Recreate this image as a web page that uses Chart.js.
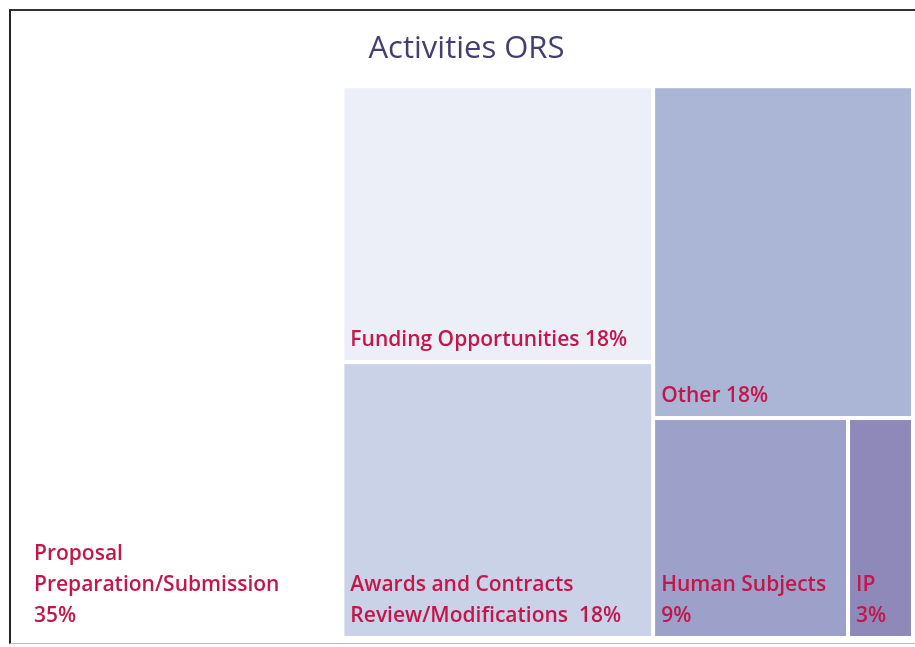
<!DOCTYPE html>
<html>
<head>
<meta charset="utf-8">
<script src="https://cdn.jsdelivr.net/npm/chart.js@4.4.1/dist/chart.umd.min.js"></script>
<style>
  html, body { margin: 0; padding: 0; background: #fff; }
  #wrap { position: relative; width: 915px; height: 647px; overflow: hidden; }
  #frame { position: absolute; left: 9px; top: 9px; width: 920px; height: 632px;
           border-left: 2px solid #222; border-top: 2px solid #333; border-bottom: 1px solid #bbb; }
  canvas { position: absolute; left: 0; top: 0; }
</style>
</head>
<body>
<div id="wrap">
  <div id="frame"></div>
  <canvas id="treeChart" width="915" height="647"></canvas>
</div>
<script>
// categories and their share of the area
const categories = ['Proposal Preparation/Submission', 'Funding Opportunities', 'Awards and Contracts Review/Modifications', 'Other', 'Human Subjects', 'IP'];
const areaValues = [36.1, 17.4, 17.4, 17.5, 8.7, 2.9];
const pctLabels = ['35%', '18%', '18%', '18%', '9%', '3%'];
// how each label is broken into lines in the picture
const labelLines = [
  ['Proposal', 'Preparation/Submission', '35%'],
  ['Funding Opportunities 18%'],
  ['Awards and Contracts', 'Review/Modifications  18%'],
  ['Other 18%'],
  ['Human Subjects', '9%'],
  ['IP', '3%']
];
const cellColors = ['#ffffff', '#eceff7', '#cad2e7', '#abb6d6', '#9da0c8', '#8f89ba'];

(function() {
  function sum(arr) {
    return arr.reduce((a, b) => a + b, 0);
  }

  // squarified treemap, done in data units (0..100 on both axes),
  // aspect ratios judged in pixels via kx / ky
  function squarify(values, kx, ky) {
    const cells = [];
    let rect = {x: 0, y: 0, w: 100, h: 100};
    let idx = 0;
    while (idx < values.length) {
      const rest = values.slice(idx);
      const wPx = rect.w * kx, hPx = rect.h * ky;
      const vertical = wPx >= hPx;
      const side = vertical ? hPx : wPx;
      const scale = (wPx * hPx) / sum(rest);

      function worst(row) {
        const t = sum(row) * scale / side;
        return Math.max(...row.map(v => {
          const len = v * scale / t;
          return Math.max(t / len, len / t);
        }));
      }

      const row = [rest[0]];
      while (row.length < rest.length && worst(row.concat(rest[row.length])) <= worst(row)) {
        row.push(rest[row.length]);
      }

      const t = sum(row) * scale / side;
      let pos = 0;
      row.forEach((v, i) => {
        const len = v * scale / t;
        if (vertical) {
          cells[idx + i] = {x: rect.x, y: rect.y + pos / ky, w: t / kx, h: len / ky};
        } else {
          cells[idx + i] = {x: rect.x + pos / kx, y: rect.y, w: len / kx, h: t / ky};
        }
        pos += len;
      });

      if (vertical) {
        rect = {x: rect.x + t / kx, y: rect.y, w: rect.w - t / kx, h: rect.h};
      } else {
        rect = {x: rect.x, y: rect.y + t / ky, w: rect.w, h: rect.h - t / ky};
      }
      idx += row.length;
    }
    return cells;
  }

  const treemapPlugin = {
    id: 'treemapCells',
    beforeDatasetsDraw(chart) {
      const ctx = chart.ctx;
      const xs = chart.scales.x, ys = chart.scales.y;
      const area = chart.chartArea;
      const kx = (area.right - area.left) / 100;
      const ky = (area.bottom - area.top) / 100;
      const cells = squarify(areaValues, kx, ky);
      const gap = 2;

      ctx.save();
      cells.forEach((c, i) => {
        const left = xs.getPixelForValue(c.x) + gap;
        const right = xs.getPixelForValue(c.x + c.w) - gap;
        const top = ys.getPixelForValue(c.y) + gap;
        const bottom = ys.getPixelForValue(c.y + c.h) - gap;
        ctx.fillStyle = cellColors[i];
        ctx.fillRect(left, top, right - left, bottom - top);

        // label sits at the bottom-left of the cell
        ctx.fillStyle = '#c3164b';
        ctx.font = '600 21px "Open Sans", sans-serif';
        ctx.textBaseline = 'middle';
        ctx.textAlign = 'left';
        const lines = labelLines[i];
        const lineH = 31;
        const padX = i === 0 ? 12 : 6;
        lines.forEach((line, j) => {
          const y = bottom - 20 - (lines.length - 1 - j) * lineH;
          ctx.fillText(line, left + padX, y);
        });
      });
      ctx.restore();
    }
  };

  document.addEventListener('DOMContentLoaded', function() {
    const ctx = document.getElementById('treeChart').getContext('2d');
    new Chart(ctx, {
      type: 'scatter',
      data: {
        datasets: [{
          label: 'Activities',
          data: []
        }]
      },
      options: {
        responsive: false,
        animation: false,
        events: [],
        layout: {
          padding: {left: 20, right: 2, top: 0, bottom: 9}
        },
        plugins: {
          legend: {display: false},
          tooltip: {enabled: false},
          title: {
            display: true,
            text: 'Activities ORS',
            color: '#433f72',
            font: {family: '"Open Sans", sans-serif', size: 31, weight: 'normal', lineHeight: 1.2},
            padding: {top: 31, bottom: 18}
          }
        },
        scales: {
          x: {type: 'linear', min: 0, max: 100, display: false},
          y: {type: 'linear', min: 0, max: 100, reverse: true, display: false}
        }
      },
      plugins: [treemapPlugin]
    });
  });
})();
</script>
</body>
</html>
